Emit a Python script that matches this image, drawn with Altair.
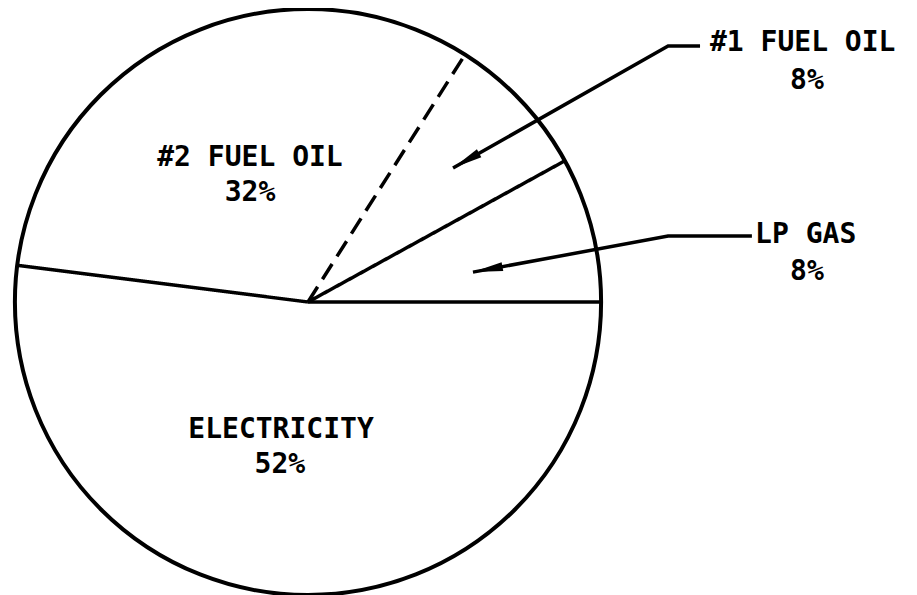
import math
import pandas as pd
import altair as alt

# ---- data -------------------------------------------------------------
categories = ["LP GAS", "#1 FUEL OIL", "#2 FUEL OIL", "ELECTRICITY"]
shares = [8, 8, 32, 52]  # percent, counter-clockwise from 3 o'clock

# annotation positions in pie-radius units (pie centre = 0,0)
name_x = [1.526, 1.372, -0.198, -0.092]
name_y = [0.229, 0.884, 0.491, -0.437]
name_align = ["left", "left", "center", "center"]
pct_x = [1.703, 1.703, -0.198, -0.096]
pct_y = [0.102, 0.754, 0.372, -0.556]

# leader lines (label end -> elbow -> arrow tip), pie-radius units
lp_path_x = [1.515, 1.229, 0.563]
lp_path_y = [0.225, 0.225, 0.102]
f1_path_x = [1.338, 1.229, 0.495]
f1_path_y = [0.874, 0.874, 0.457]

R = 293  # pixel radius
W, H = 901, 587
FONT = "DejaVu Sans Mono"

# ---- tables -----------------------------------------------------------
df = pd.DataFrame({"category": categories, "share": shares})
df["end"] = df["share"].cumsum()
df["start"] = df["end"] - df["share"]
df["cx"] = 0.0
df["cy"] = 0.0

labels = pd.DataFrame({
    "category": categories, "x": name_x, "y": name_y, "align": name_align,
    "px": pct_x, "py": pct_y,
    "pct": [f"{s}%" for s in shares],
})

lines = pd.DataFrame({
    "g": ["lp"] * 3 + ["f1"] * 3,
    "o": [0, 1, 2] * 2,
    "x": lp_path_x + f1_path_x,
    "y": lp_path_y + f1_path_y,
})

def tip_angle(xs, ys):
    dx = (xs[-1] - xs[-2])
    dy = -(ys[-1] - ys[-2])
    return math.degrees(math.atan2(dx, -dy)) % 360

tips = pd.DataFrame({
    "x": [lp_path_x[-1], f1_path_x[-1]],
    "y": [lp_path_y[-1], f1_path_y[-1]],
    "ang": [tip_angle(lp_path_x, lp_path_y), tip_angle(f1_path_x, f1_path_y)],
})

# ---- scales -----------------------------------------------------------
cx_px, cy_px = 300, 294  # centre inside the view
xs = alt.Scale(domain=[-cx_px / R, (W - cx_px) / R], nice=False, zero=False)
ys = alt.Scale(domain=[-(H - cy_px) / R, cy_px / R], nice=False, zero=False)

XC = alt.X("cx:Q", scale=xs, axis=None)
YC = alt.Y("cy:Q", scale=ys, axis=None)

slices = alt.Chart(df).mark_arc(radius=R, fill="white", strokeWidth=0).encode(
    theta=alt.Theta("start:Q", stack=None,
                    scale=alt.Scale(domain=[0, 100],
                                    range=[math.pi / 2 + 2 * math.pi, math.pi / 2])),
    theta2="end:Q",
    x=XC, y=YC,
)

outline = alt.Chart(df.head(1)).mark_arc(
    radius=R, theta=0, theta2=6.2832, fillOpacity=0, stroke="black", strokeWidth=4
).encode(x=XC, y=YC)

rules = alt.Chart(df).transform_calculate(
    ex="cos(2*PI*datum.start/100)", ey="sin(2*PI*datum.start/100)"
).mark_rule(color="black", strokeWidth=3.5, strokeCap="butt").encode(
    x=XC, y=YC,
    x2="ex:Q", y2="ey:Q",
    strokeDash=alt.condition("datum.category == '#2 FUEL OIL'",
                             alt.value([18, 9]), alt.value([1, 0])),
)

leaders = alt.Chart(lines).mark_line(color="black", strokeWidth=3.5).encode(
    x=alt.X("x:Q", scale=xs, axis=None),
    y=alt.Y("y:Q", scale=ys, axis=None),
    detail="g:N",
    order="o:Q",
)

heads = alt.Chart(tips).mark_point(
    shape="M0,0L0.3,2L-0.3,2Z", filled=True, size=900, color="black",
    strokeWidth=0, opacity=1,
).encode(
    x=alt.X("x:Q", scale=xs, axis=None),
    y=alt.Y("y:Q", scale=ys, axis=None),
    angle=alt.Angle("ang:Q", scale=None),
)

txt = dict(font=FONT, fontSize=28, fontWeight="bold", color="black", baseline="middle")

names_left = alt.Chart(labels).transform_filter("datum.align == 'left'").mark_text(
    align="left", **txt
).encode(
    x=alt.X("x:Q", scale=xs, axis=None), y=alt.Y("y:Q", scale=ys, axis=None), text="category:N",
)
names_center = alt.Chart(labels).transform_filter("datum.align == 'center'").mark_text(
    align="center", **txt
).encode(
    x=alt.X("x:Q", scale=xs, axis=None), y=alt.Y("y:Q", scale=ys, axis=None), text="category:N",
)
pcts = alt.Chart(labels).mark_text(align="center", **txt).encode(
    x=alt.X("px:Q", scale=xs, axis=None), y=alt.Y("py:Q", scale=ys, axis=None), text="pct:N",
)

chart = alt.layer(
    slices, rules, outline, leaders, heads, names_left, names_center, pcts
).properties(
    width=W, height=H, padding=0, background="white",
    autosize=alt.AutoSizeParams(type="none"),
).configure_view(stroke=None)

chart.save("out.html", embed_options={"renderer": "svg", "actions": False})
